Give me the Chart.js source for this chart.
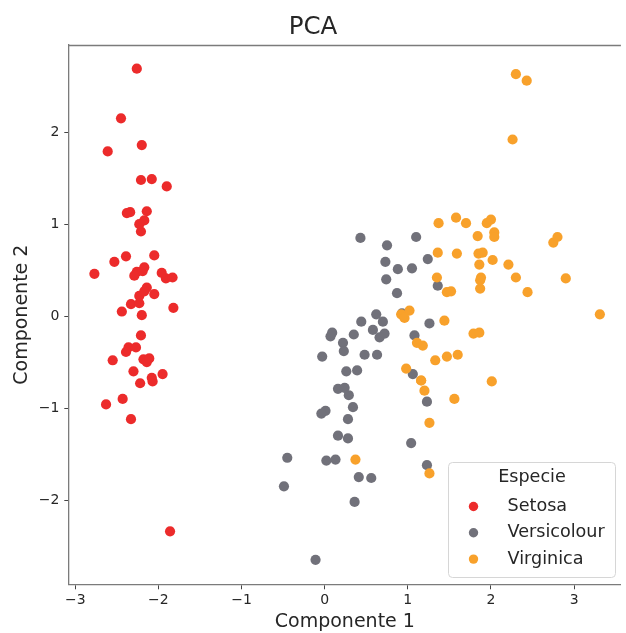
<!DOCTYPE html>
<html>
<head>
<meta charset="utf-8">
<title>PCA</title>
<script src="https://cdn.jsdelivr.net/npm/chart.js@4.4.1/dist/chart.umd.min.js"></script>
<style>
  html, body { margin: 0; padding: 0; background: #fff; overflow: hidden; }
  #wrap { width: 626px; height: 633px; }
</style>
</head>
<body>
<div id="wrap"><canvas id="pcaChart" width="626" height="633"></canvas></div>
<script>
// Data
const species = ['Setosa', 'Versicolour', 'Virginica'];
const speciesColors = ['#ec2b2b', '#71717a', '#f8a12b'];

const setosaX = [-2.26, -2.08, -2.36, -2.30, -2.39, -2.08, -2.44, -2.23, -2.33, -2.18,
  -2.17, -2.33, -2.22, -2.63, -2.20, -2.26, -2.21, -2.19, -1.90, -2.34,
  -1.91, -2.21, -2.77, -1.82, -2.23, -1.95, -2.05, -2.17, -2.14, -2.27,
  -2.14, -1.83, -2.61, -2.45, -2.11, -2.21, -2.05, -2.53, -2.43, -2.17,
  -2.29, -1.86, -2.55, -1.96, -2.14, -2.07, -2.38, -2.39, -2.23, -2.20];
const setosaY = [0.48, -0.67, -0.34, -0.60, 0.65, 1.49, 0.05, 0.22, -1.12, -0.47,
  1.04, 0.13, -0.73, -0.96, 1.86, 2.69, 1.48, 0.49, 1.41, 1.13,
  0.41, 0.92, 0.46, 0.09, 0.14, -0.63, 0.24, 0.53, 0.31, -0.34,
  -0.50, 0.42, 1.79, 2.15, -0.46, -0.21, 0.66, 0.59, -0.90, 0.27,
  0.44, -2.34, -0.48, 0.47, 1.14, -0.71, 1.12, -0.39, 1.00, 0.01];

const versicolourX = [1.10, 0.73, 1.24, 0.41, 1.08, 0.39, 0.75, -0.49, 0.93, 0.01,
  -0.11, 0.44, 0.56, 0.72, -0.03, 0.88, 0.35, 0.16, 1.23, 0.16,
  0.74, 0.48, 1.23, 0.63, 0.70, 0.87, 1.26, 1.36, 0.66, -0.04,
  0.13, 0.02, 0.24, 1.06, 0.22, 0.43, 1.05, 1.04, 0.07, 0.28,
  0.28, 0.62, 0.34, 0.36, 0.29, 0.09, 0.23, 0.58, -0.45, 0.26];
const versicolourY = [0.86, 0.59, 0.62, -1.75, -0.21, -0.59, 0.77, -1.85, 0.03, -1.03,
  -2.65, -0.06, -1.76, -0.19, -0.44, 0.51, -0.20, -0.79, -1.62, -1.30,
  0.40, -0.42, -0.93, -0.42, -0.06, 0.25, -0.08, 0.33, -0.23, -1.06,
  -1.56, -1.57, -0.78, -0.63, -0.29, 0.85, 0.52, -1.38, -0.22, -1.33,
  -1.12, 0.02, -0.99, -2.02, -0.86, -0.18, -0.38, -0.15, -1.54, -0.60];

const virginicaX = [1.84, 1.16, 2.21, 1.44, 1.87, 2.75, 0.37, 2.30, 2.01, 2.26,
  1.36, 1.60, 1.88, 1.26, 1.47, 1.59, 1.47, 2.43, 3.31, 1.26,
  2.04, 0.98, 2.90, 1.33, 1.70, 1.95, 1.18, 1.02, 1.79, 1.86,
  2.44, 2.30, 1.86, 1.11, 1.20, 2.80, 1.58, 1.35, 0.92, 1.85,
  2.02, 1.90, 1.16, 2.04, 2.00, 1.87, 1.56, 1.52, 1.37, 0.96];
const virginicaY = [0.87, -0.70, 0.56, -0.05, 0.30, 0.80, -1.56, 0.42, -0.71, 1.92,
  0.69, -0.42, 0.42, -1.16, -0.44, 0.68, 0.26, 2.56, 0.02, -1.71,
  0.91, -0.57, 0.41, -0.48, 1.01, 1.01, -0.32, 0.06, -0.19, 0.56,
  0.26, 2.63, -0.18, -0.29, -0.81, 0.86, 1.07, 0.42, 0.02, 0.68,
  0.61, 0.69, -0.70, 0.86, 1.05, 0.39, -0.90, 0.27, 1.01, -0.02];

const xTicks = [-3, -2, -1, 0, 1, 2, 3];
const yTicks = [-2, -1, 0, 1, 2];

const axisColor = '#7b7b7b';
const textColor = '#262626';

function toPoints(xs, ys) {
  return xs.map((x, i) => ({ x: x, y: ys[i] }));
}
function minusLabel(v) {
  return String(v).replace('-', '\u2212');
}

// top spine (the right one falls outside the picture)
const frameTop = {
  id: 'frameTop',
  afterDraw(chart) {
    const { ctx, chartArea: a } = chart;
    ctx.save();
    ctx.strokeStyle = axisColor;
    ctx.lineWidth = 1.3;
    ctx.beginPath();
    ctx.moveTo(a.left, Math.round(a.top) + 0.5);
    ctx.lineTo(a.right, Math.round(a.top) + 0.5);
    ctx.stroke();
    ctx.restore();
  }
};

// legend box inside the lower right corner of the plot
const insideLegend = {
  id: 'insideLegend',
  afterDraw(chart) {
    const { ctx, chartArea: a } = chart;
    const w = 167, h = 115;
    const x = Math.round(a.right - 6 - w) + 0.5;
    const y = Math.round(a.bottom - 8 - h) + 0.5;
    ctx.save();
    ctx.beginPath();
    ctx.roundRect(x, y, w, h, 4);
    ctx.fillStyle = 'rgba(255,255,255,0.85)';
    ctx.fill();
    ctx.strokeStyle = '#d6d6d6';
    ctx.lineWidth = 1;
    ctx.stroke();

    ctx.font = '17.6px "DejaVu Sans"';
    ctx.fillStyle = textColor;
    ctx.textBaseline = 'middle';
    ctx.textAlign = 'center';
    ctx.fillText('Especie', x + w / 2, y + 15);

    ctx.textAlign = 'left';
    chart.data.datasets.forEach((ds, i) => {
      const cy = y + 44 + i * 26.3;
      ctx.beginPath();
      ctx.arc(x + 25, cy, 4.7, 0, Math.PI * 2);
      ctx.fillStyle = ds.backgroundColor;
      ctx.fill();
      ctx.fillStyle = textColor;
      ctx.fillText(ds.label, x + 59, cy);
    });
    ctx.restore();
  }
};

Chart.defaults.font.family = '"DejaVu Sans", sans-serif';
Chart.defaults.color = textColor;

const pcaCtx = document.getElementById('pcaChart').getContext('2d');
new Chart(pcaCtx, {
  type: 'scatter',
  data: {
    datasets: [
      { label: species[0], data: toPoints(setosaX, setosaY), backgroundColor: speciesColors[0], order: 2 },
      { label: species[1], data: toPoints(versicolourX, versicolourY), backgroundColor: speciesColors[1], order: 1 },
      { label: species[2], data: toPoints(virginicaX, virginicaY), backgroundColor: speciesColors[2], order: 0 }
    ]
  },
  options: {
    responsive: false,
    animation: false,
    layout: { padding: 0 },
    elements: {
      point: { radius: 5.1, borderWidth: 0, hoverRadius: 5.1 }
    },
    plugins: {
      legend: { display: false },
      tooltip: { enabled: false },
      title: {
        display: true,
        text: 'PCA',
        color: textColor,
        font: { size: 24.5, weight: 'normal' },
        padding: { top: 13.3, bottom: 1.8 }
      }
    },
    scales: {
      x: {
        type: 'linear',
        bounds: 'data',
        min: -3.078,
        max: 3.563,
        afterBuildTicks: (scale) => { scale.ticks = xTicks.map(v => ({ value: v })); },
        afterFit: (scale) => { scale.height = 48.2; },
        grid: { display: true, drawOnChartArea: false, drawTicks: true, tickLength: 4.5, color: '#444', tickWidth: 1 },
        border: { display: true, color: axisColor, width: 1.3 },
        ticks: { font: { size: 14 }, padding: 3, color: textColor, maxRotation: 0, callback: minusLabel },
        title: { display: true, text: 'Componente 1', font: { size: 19 }, color: textColor, padding: { top: 0, bottom: 0 } }
      },
      y: {
        type: 'linear',
        bounds: 'data',
        min: -2.921,
        max: 2.953,
        afterBuildTicks: (scale) => { scale.ticks = yTicks.map(v => ({ value: v })); },
        afterFit: (scale) => { scale.width = 68.8; },
        grid: { display: true, drawOnChartArea: false, drawTicks: true, tickLength: 4.5, color: '#444', tickWidth: 1 },
        border: { display: true, color: axisColor, width: 1.3 },
        ticks: { font: { size: 14 }, padding: 5, color: textColor, callback: minusLabel },
        title: { display: true, text: 'Componente 2', font: { size: 19 }, color: textColor, padding: { top: 10.5, bottom: 0 } }
      }
    }
  },
  plugins: [frameTop, insideLegend]
});
</script>
</body>
</html>
